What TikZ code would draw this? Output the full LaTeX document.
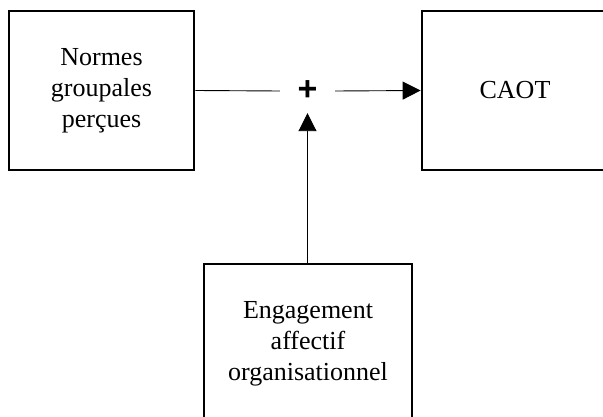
\documentclass[tikz,border=0pt]{standalone}
\usepackage{fontspec}
\setmainfont{Liberation Serif}
\newfontfamily\plusfont{Liberation Sans}
\usetikzlibrary{arrows.meta}
\begin{document}
\begin{tikzpicture}[x=1pt,y=-1pt,
  boxnode/.style={draw,line width=2.8pt,inner sep=0pt,align=center,
    minimum height=159pt,font=\fontsize{26}{31}\selectfont},
  conn/.style={line width=0.9pt},
  arr/.style={conn,-{Triangle[length=18pt,width=18pt]}}]
\useasboundingbox (0,0) rectangle (603,417);
\clip (0,0) rectangle (603,417);
\fill[white] (0,0) rectangle (603,417);
\node[boxnode,minimum width=185pt] (nps) at (101.5,90.5) {Normes\\groupales\\perçues};
\node[boxnode,minimum width=186pt] (caot) at (515,90.5) {CAOT};
\node[boxnode,minimum width=208pt] (eng) at (308,343.5) {Engagement\\affectif\\organisationnel};
\node[inner sep=0pt,minimum width=55pt,minimum height=44pt,
  font=\plusfont\bfseries\fontsize{34}{34}\selectfont] (plus) at (307.5,91) {+};
\draw[conn] (nps.east) -- (plus.west);
\draw[arr] (plus.east) -- (caot.west);
\draw[arr] (eng.north -| plus.south) -- (plus.south);
\end{tikzpicture}
\end{document}
